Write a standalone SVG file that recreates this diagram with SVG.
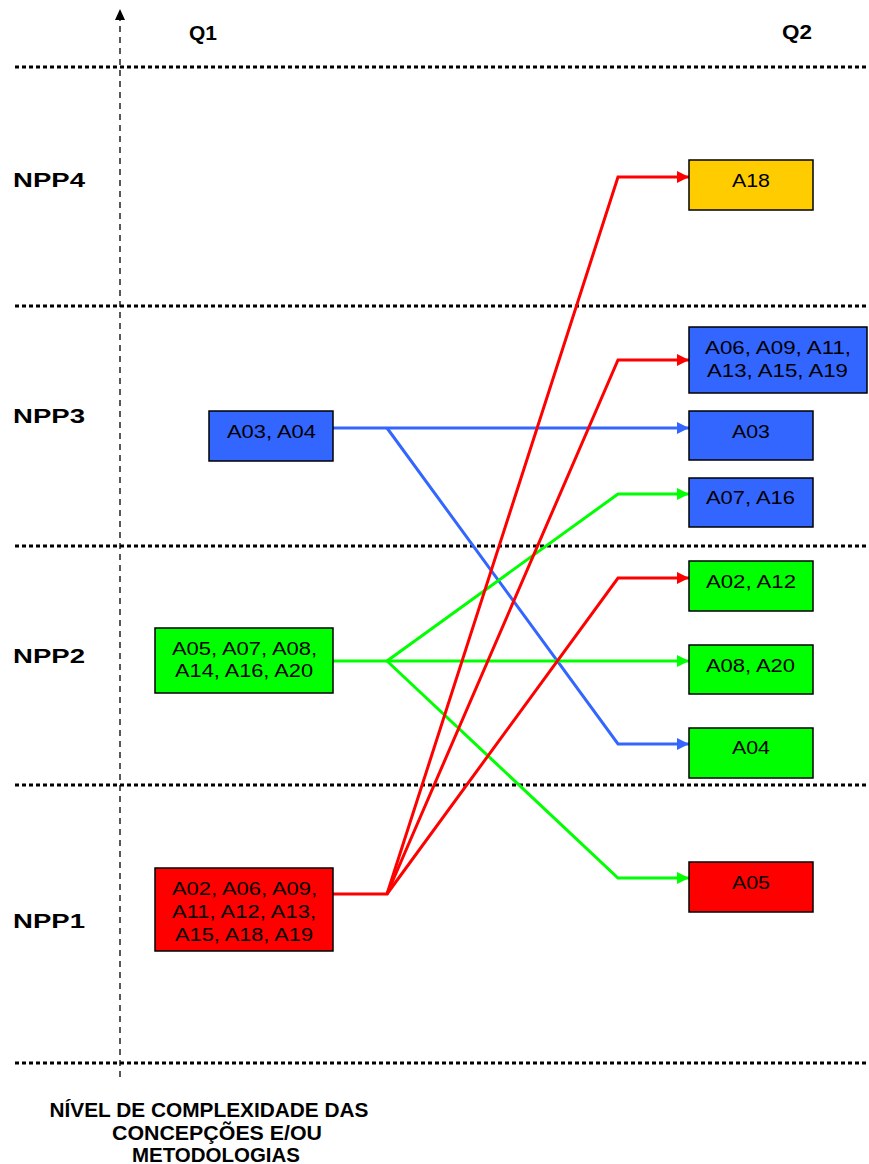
<svg xmlns="http://www.w3.org/2000/svg" width="869" height="1164" viewBox="0 0 869 1164">
<style>
.dot{stroke:#000;stroke-width:3;stroke-dasharray:4,3;fill:none}
.axis{stroke:#000;stroke-width:1.3;stroke-dasharray:6,5;fill:none}
.lbl{font-family:"Liberation Sans",Arial,sans-serif;font-weight:bold;font-size:20px;fill:#000}
.ttl{font-family:"Liberation Sans",Arial,sans-serif;font-weight:bold;font-size:20px;fill:#000;text-anchor:middle}
.box{stroke:#000;stroke-width:1.5}
.bt{font-family:"Liberation Sans",Arial,sans-serif;font-size:18px;fill:#000;text-anchor:middle}
.r{stroke:#ff0000;stroke-width:3;fill:none}
.g{stroke:#00ff00;stroke-width:3;fill:none}
.b{stroke:#3366ff;stroke-width:3;fill:none}
</style>
<defs>
<marker id="ar" viewBox="0 0 10 10" refX="10" refY="5" markerWidth="4.5" markerHeight="4" orient="auto" markerUnits="strokeWidth"><path d="M0,0L10,5L0,10z" fill="#ff0000"/></marker>
<marker id="ag" viewBox="0 0 10 10" refX="10" refY="5" markerWidth="4.5" markerHeight="4" orient="auto" markerUnits="strokeWidth"><path d="M0,0L10,5L0,10z" fill="#00ff00"/></marker>
<marker id="ab" viewBox="0 0 10 10" refX="10" refY="5" markerWidth="4.5" markerHeight="4" orient="auto" markerUnits="strokeWidth"><path d="M0,0L10,5L0,10z" fill="#3366ff"/></marker>
</defs>
<rect width="869" height="1164" fill="#fff"/>
<g id="grid">
<line class="dot" x1="15" y1="67" x2="869" y2="67"/>
<line class="dot" x1="15" y1="306" x2="869" y2="306"/>
<line class="dot" x1="15" y1="546" x2="869" y2="546"/>
<line class="dot" x1="15" y1="785" x2="869" y2="785"/>
<line class="dot" x1="15" y1="1063" x2="869" y2="1063"/>
<line class="axis" x1="120" y1="1077" x2="120" y2="18"/>
<path d="M115,20L120,9L125,20z" fill="#000"/>
</g>
<g id="labels">
<text class="lbl" x="189" y="40" textLength="28" lengthAdjust="spacingAndGlyphs">Q1</text>
<text class="lbl" x="782" y="39" textLength="30" lengthAdjust="spacingAndGlyphs">Q2</text>
<text class="lbl" x="13" y="187" textLength="72" lengthAdjust="spacingAndGlyphs">NPP4</text>
<text class="lbl" x="13" y="423" textLength="72" lengthAdjust="spacingAndGlyphs">NPP3</text>
<text class="lbl" x="13" y="663" textLength="72" lengthAdjust="spacingAndGlyphs">NPP2</text>
<text class="lbl" x="13" y="928" textLength="72" lengthAdjust="spacingAndGlyphs">NPP1</text>
<text class="ttl" x="209" y="1117" textLength="319" lengthAdjust="spacingAndGlyphs">NÍVEL DE COMPLEXIDADE DAS</text>
<text class="ttl" x="217" y="1140" textLength="210" lengthAdjust="spacingAndGlyphs">CONCEPÇÕES E/OU</text>
<text class="ttl" x="216" y="1162" textLength="168" lengthAdjust="spacingAndGlyphs">METODOLOGIAS</text>
</g>
<g id="connectors">
<polyline class="b" points="333,428 689,428" marker-end="url(#ab)"/>
<polyline class="b" points="387,428 618,744 689,744" marker-end="url(#ab)"/>
<polyline class="g" points="333,661 689,661" marker-end="url(#ag)"/>
<polyline class="g" points="387,661 618,494 689,494" marker-end="url(#ag)"/>
<polyline class="g" points="387,661 618,878 689,878" marker-end="url(#ag)"/>
<polyline class="r" points="333,894 387,894 618,177 689,177" marker-end="url(#ar)"/>
<polyline class="r" points="387,894 618,360 689,360" marker-end="url(#ar)"/>
<polyline class="r" points="387,894 618,578 689,578" marker-end="url(#ar)"/>
</g>
<g id="q1-a03a04"><rect class="box" x="209" y="411" width="124" height="50" fill="#3366ff"/><text class="bt" x="271.5" y="438" textLength="89" lengthAdjust="spacingAndGlyphs">A03, A04</text></g>
<g id="q1-green"><rect class="box" x="155" y="628" width="178" height="65" fill="#00ff00"/><text class="bt" x="244.5" y="655" textLength="145" lengthAdjust="spacingAndGlyphs">A05, A07, A08,</text><text class="bt" x="244" y="677" textLength="138" lengthAdjust="spacingAndGlyphs">A14, A16, A20</text></g>
<g id="q1-red"><rect class="box" x="155" y="868" width="178" height="83" fill="#ff0000"/><text class="bt" x="244.5" y="895" textLength="145" lengthAdjust="spacingAndGlyphs">A02, A06, A09,</text><text class="bt" x="244" y="918" textLength="144" lengthAdjust="spacingAndGlyphs">A11, A12, A13,</text><text class="bt" x="244" y="941" textLength="138" lengthAdjust="spacingAndGlyphs">A15, A18, A19</text></g>
<g id="q2-a18"><rect class="box" x="689" y="160" width="124" height="50" fill="#ffcc00"/><text class="bt" x="751" y="187" textLength="38" lengthAdjust="spacingAndGlyphs">A18</text></g>
<g id="q2-a06"><rect class="box" x="689" y="327" width="178" height="66" fill="#3366ff"/><text class="bt" x="778" y="354" textLength="146" lengthAdjust="spacingAndGlyphs">A06, A09, A11,</text><text class="bt" x="777.5" y="377" textLength="141" lengthAdjust="spacingAndGlyphs">A13, A15, A19</text></g>
<g id="q2-a03"><rect class="box" x="689" y="411" width="124" height="49" fill="#3366ff"/><text class="bt" x="751" y="438" textLength="38" lengthAdjust="spacingAndGlyphs">A03</text></g>
<g id="q2-a07"><rect class="box" x="689" y="478" width="124" height="49" fill="#3366ff"/><text class="bt" x="750.5" y="504" textLength="89" lengthAdjust="spacingAndGlyphs">A07, A16</text></g>
<g id="q2-a02"><rect class="box" x="689" y="561" width="124" height="50" fill="#00ff00"/><text class="bt" x="751" y="588" textLength="90" lengthAdjust="spacingAndGlyphs">A02, A12</text></g>
<g id="q2-a08"><rect class="box" x="689" y="645" width="124" height="49" fill="#00ff00"/><text class="bt" x="750.5" y="672" textLength="89" lengthAdjust="spacingAndGlyphs">A08, A20</text></g>
<g id="q2-a04"><rect class="box" x="689" y="728" width="124" height="50" fill="#00ff00"/><text class="bt" x="751" y="754" textLength="38" lengthAdjust="spacingAndGlyphs">A04</text></g>
<g id="q2-a05"><rect class="box" x="689" y="862" width="124" height="50" fill="#ff0000"/><text class="bt" x="751" y="889" textLength="38" lengthAdjust="spacingAndGlyphs">A05</text></g>
</svg>
